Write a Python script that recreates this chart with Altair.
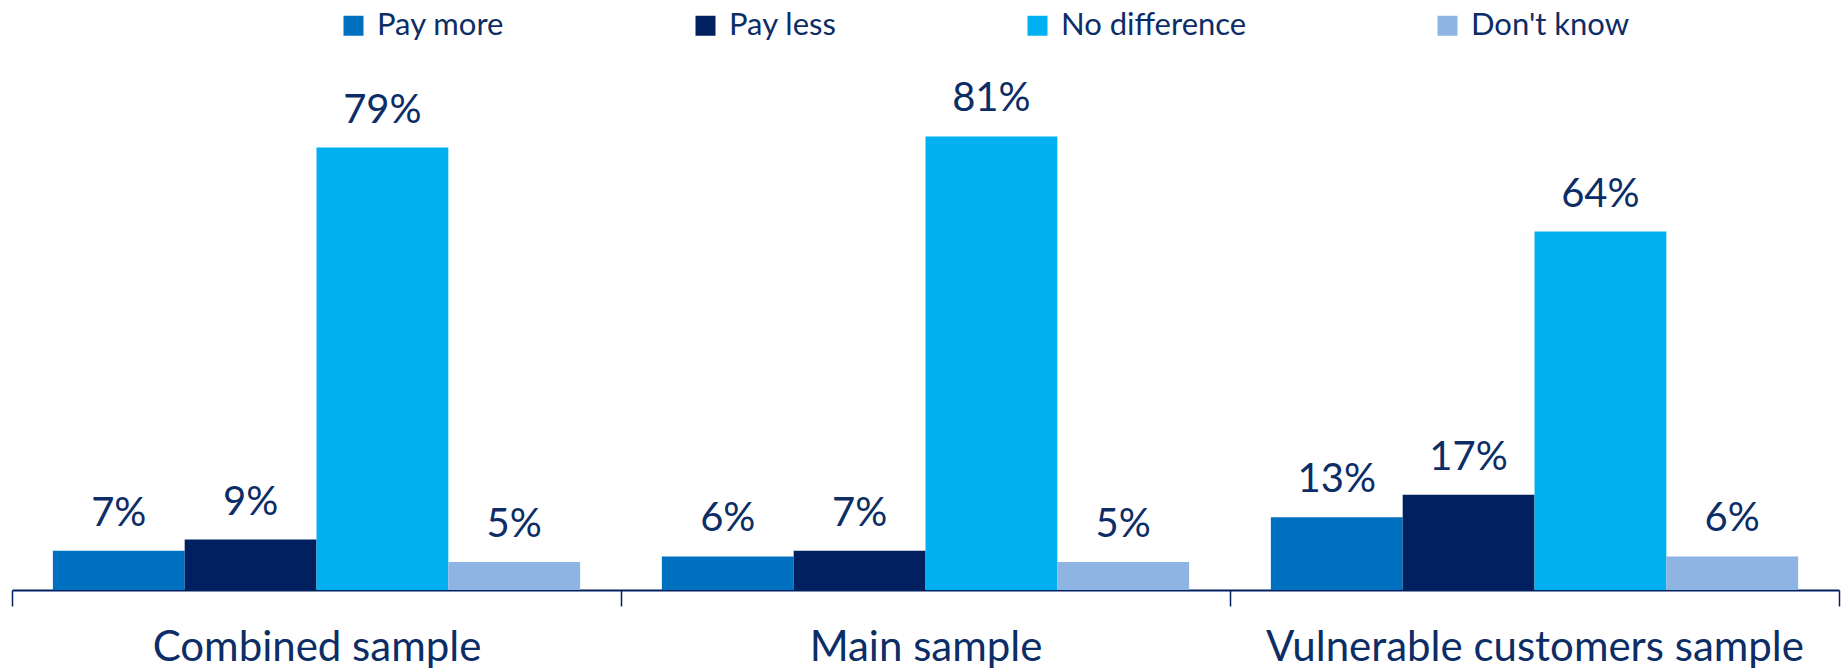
import altair as alt
import pandas as pd

groups = ["Combined sample", "Main sample", "Vulnerable customers sample"]
responses = ["Pay more", "Pay less", "No difference", "Don't know"]
colors = ["#0070C0", "#002060", "#00B0F0", "#8EB4E3"]
combined = [7, 9, 79, 5]
main = [6, 7, 81, 5]
vulnerable = [13, 17, 64, 6]

rows = []
for g, vals in zip(groups, [combined, main, vulnerable]):
    for r, v in zip(responses, vals):
        rows.append({"group": g, "response": r, "value": v, "label": f"{v}%"})
df = pd.DataFrame(rows)

NAVY = "#0C2D66"
FONT = "Lato"

x = alt.X("group:N", sort=groups, title=None,
          scale=alt.Scale(paddingInner=0, paddingOuter=0),
          axis=alt.Axis(labelAngle=0, labelFontSize=42, labelFont=FONT, labelColor=NAVY,
                        labelLimit=1000, labelBaseline="alphabetic", labelPadding=54,
                        domainColor="#002060", domainWidth=2, tickColor="#002060",
                        tickWidth=1.5, tickSize=16, tickBand="extent", grid=False))
xo = alt.XOffset("response:N", sort=responses,
                 scale=alt.Scale(paddingInner=0, paddingOuter=0.31))
y = alt.Y("value:Q", scale=alt.Scale(domain=[0, 100]), axis=None)

bars = alt.Chart(df).mark_bar().encode(
    x=x, xOffset=xo, y=y,
    color=alt.Color("response:N", sort=responses,
                    scale=alt.Scale(domain=responses, range=colors),
                    legend=alt.Legend(title=None, orient="none", direction="horizontal",
                                      columns=4, legendX=326, legendY=-20,
                                      symbolType="square", symbolSize=400,
                                      symbolStrokeWidth=0, labelOffset=8,
                                      labelFontSize=31, labelFont=FONT, labelColor=NAVY,
                                      columnPadding=185, padding=0, labelLimit=500)),
)

labels = alt.Chart(df).mark_text(dy=-25, baseline="alphabetic", fontSize=40,
                                  font=FONT, color=NAVY).encode(
    x=x, xOffset=xo, y=y, text="label:N")

chart = alt.layer(bars, labels).properties(
    width=1827, height=560,
    autosize=alt.AutoSizeParams(type="none"),
    padding={"left": 12, "top": 30, "right": 2, "bottom": 79},
).configure_view(stroke=None)

chart.save("out.html", embed_options={"renderer": "svg", "actions": False})
